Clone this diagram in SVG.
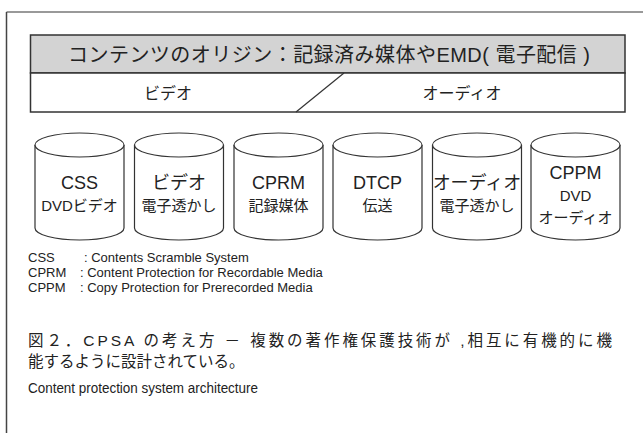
<svg xmlns="http://www.w3.org/2000/svg" width="643" height="433" viewBox="0 0 643 433">
  <style>
    text { font-family: "Liberation Sans", "Noto Sans CJK JP", sans-serif; fill: #222; }
    .mid { text-anchor: middle; }
    .big { font-size: 18px; }
    .sub { font-size: 15px; }
    .cyl { fill: #fff; stroke: #333; stroke-width: 1.2; }
    .legend { font-size: 13px; }
    .cap { font-size: 15.5px; }
  </style>
  <defs>
    <!-- cylinder: body with bottom arc, then top ellipse -->
    <g id="drum">
      <path class="cyl" d="M0,12 L0,95 A44.5,12 0 0 0 89,95 L89,12"/>
      <ellipse class="cyl" cx="44.5" cy="12" rx="44.5" ry="12"/>
    </g>
  </defs>

  <rect width="643" height="433" fill="#fff"/>

  <!-- outer frame -->
  <g id="frame" fill="none">
    <line x1="6.5" y1="12" x2="643" y2="12" stroke="#777" stroke-width="1.5"/>
    <line x1="6.5" y1="12" x2="6.5" y2="433" stroke="#444" stroke-width="1.5"/>
  </g>

  <!-- header: content origin -->
  <g id="origin">
    <rect x="30.5" y="35" width="594.5" height="38" fill="#d3d3d3" stroke="#333" stroke-width="1.5"/>
    <text x="68" y="62" font-size="20" textLength="522" lengthAdjust="spacing">コンテンツのオリジン：記録済み媒体やEMD( 電子配信 )</text>
  </g>

  <!-- media type row -->
  <g id="media">
    <rect x="30.5" y="73" width="594.5" height="39" fill="#fff" stroke="#333" stroke-width="1.5"/>
    <text class="mid" x="168" y="99" font-size="16">ビデオ</text>
    <text class="mid" x="462" y="99" font-size="16">オーディオ</text>
  </g>

  <g id="connectors">
    <line x1="344" y1="73" x2="296" y2="112" stroke="#333" stroke-width="1.2"/>
  </g>

  <!-- protection technologies -->
  <g id="css">
    <use href="#drum" x="35" y="133"/>
    <text class="mid big" x="79.5" y="189">CSS</text>
    <text class="mid sub" x="79.5" y="211">DVDビデオ</text>
  </g>
  <g id="video-wm">
    <use href="#drum" x="134.5" y="133"/>
    <text class="mid big" x="179" y="189">ビデオ</text>
    <text class="mid sub" x="179" y="211">電子透かし</text>
  </g>
  <g id="cprm">
    <use href="#drum" x="234" y="133"/>
    <text class="mid big" x="278.5" y="189">CPRM</text>
    <text class="mid sub" x="278.5" y="211">記録媒体</text>
  </g>
  <g id="dtcp">
    <use href="#drum" x="333" y="133"/>
    <text class="mid big" x="377.5" y="189">DTCP</text>
    <text class="mid sub" x="377.5" y="211">伝送</text>
  </g>
  <g id="audio-wm">
    <use href="#drum" x="432.5" y="133"/>
    <text class="mid big" x="477" y="189">オーディオ</text>
    <text class="mid sub" x="477" y="211">電子透かし</text>
  </g>
  <g id="cppm">
    <use href="#drum" x="531" y="133"/>
    <text class="mid big" x="575.5" y="179">CPPM</text>
    <text class="mid sub" x="575.5" y="201">DVD</text>
    <text class="mid sub" x="575.5" y="223">オーディオ</text>
  </g>

  <!-- abbreviations -->
  <g id="legend" class="legend">
    <text x="28" y="262">CSS</text><text x="84" y="262">: Contents Scramble System</text>
    <text x="28" y="277">CPRM</text><text x="80" y="277">: Content Protection for Recordable Media</text>
    <text x="28" y="292">CPPM</text><text x="80" y="292">: Copy Protection for Prerecorded Media</text>
  </g>

  <!-- caption -->
  <g id="caption" class="cap">
    <text x="28" y="346" textLength="584" lengthAdjust="spacing">図２．CPSA の考え方 － 複数の著作権保護技術が ,相互に有機的に機</text>
    <text x="28" y="367">能するように設計されている。</text>
    <text x="28" y="393" textLength="230" lengthAdjust="spacingAndGlyphs">Content protection system architecture</text>
  </g>
</svg>
